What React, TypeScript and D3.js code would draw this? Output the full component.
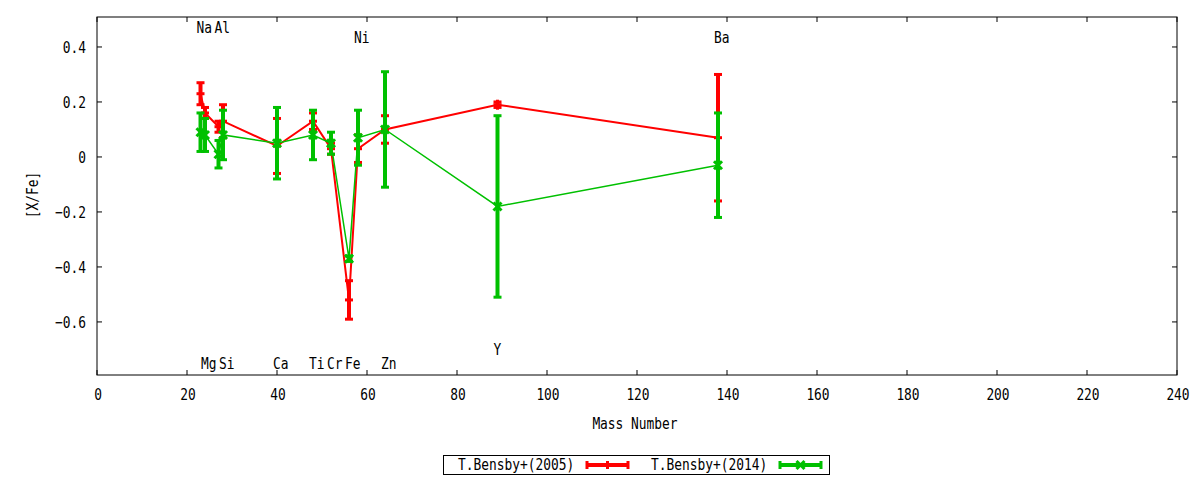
import * as d3 from "d3";

// element abundances vs mass number
const elements = ["Na", "Mg", "Al", "Si", "Ca", "Ti", "Cr", "Fe", "Ni", "Zn", "Y", "Ba"];
const massNumber = [23, 24, 27, 28, 40, 48, 52, 56, 58, 64, 89, 138];

const bensby2005 = [0.23, 0.16, 0.11, 0.13, 0.04, 0.13, 0.03, -0.52, 0.03, 0.1, 0.19, 0.07];
const bensby2005Err = [0.04, 0.02, 0.02, 0.06, 0.1, 0.03, 0.02, 0.07, 0.05, 0.05, 0.01, 0.23];

const bensby2014 = [0.09, 0.08, 0.01, 0.08, 0.05, 0.08, 0.05, -0.37, 0.07, 0.1, -0.18, -0.03];
const bensby2014Err = [0.07, 0.06, 0.05, 0.09, 0.13, 0.09, 0.04, 0.01, 0.1, 0.21, 0.33, 0.19];

const labelNames = ["Na", "Al", "Ni", "Ba", "Mg", "Si", "Ca", "Ti", "Cr", "Fe", "Zn", "Y"];
const labelMass = [23, 27, 58, 138, 24, 28, 40, 48, 52, 56, 64, 89];
const labelValue = [0.473, 0.473, 0.436, 0.436, -0.749, -0.749, -0.749, -0.749, -0.749, -0.749, -0.749, -0.698];

const xTicks = d3.range(0, 241, 20);
const yTicks = [-0.6, -0.4, -0.2, 0, 0.2, 0.4];

const FONT = "'DejaVu Sans Mono', monospace";
const RED = "#ff0000";
const GREEN = "#00c000";
const CHAR_W = 7.75;

// narrow monospace text, like gnuplot's png font
function T({ children, ...rest }: any) {
  const s = String(children);
  return (
    <text {...rest} textLength={s.length * CHAR_W} lengthAdjust="spacingAndGlyphs">
      {s}
    </text>
  );
}

function Series({ values, errs, color, marker, lineWidth, x, y }: any) {
  const pts = massNumber.map((m, i) => ({ m, v: values[i], e: errs[i] }));
  const line = d3
    .line<any>()
    .x((d) => x(d.m))
    .y((d) => y(d.v));
  return (
    <g>
      <path d={line(pts) || ""} fill="none" stroke={color} strokeWidth={lineWidth} />
      {pts.map((d, i) => {
        const cx = x(d.m);
        const cy = y(d.v);
        const top = y(d.v + d.e);
        const bot = y(d.v - d.e);
        return (
          <g key={i} stroke={color} fill="none">
            <line x1={cx} x2={cx} y1={top} y2={bot} strokeWidth={4} />
            <line x1={cx - 4} x2={cx + 4} y1={top} y2={top} strokeWidth={3} />
            <line x1={cx - 4} x2={cx + 4} y1={bot} y2={bot} strokeWidth={3} />
            {marker === "plus" ? (
              <>
                <line x1={cx - 4} x2={cx + 4} y1={cy} y2={cy} strokeWidth={3} />
                <line x1={cx} x2={cx} y1={cy - 5} y2={cy + 5} strokeWidth={3} />
              </>
            ) : (
              <>
                <line x1={cx - 4} x2={cx + 4} y1={cy - 4} y2={cy + 4} strokeWidth={3} />
                <line x1={cx - 4} x2={cx + 4} y1={cy + 4} y2={cy - 4} strokeWidth={3} />
              </>
            )}
          </g>
        );
      })}
    </g>
  );
}

function LegendSample({ x0, x1, yy, color, marker }: any) {
  const mid = (x0 + x1) / 2;
  return (
    <g stroke={color} fill="none">
      <line x1={x0} x2={x1} y1={yy} y2={yy} strokeWidth={4} />
      <line x1={x0} x2={x0} y1={yy - 4} y2={yy + 4} strokeWidth={3} />
      <line x1={x1} x2={x1} y1={yy - 4} y2={yy + 4} strokeWidth={3} />
      {marker === "plus" ? (
        <line x1={mid} x2={mid} y1={yy - 4} y2={yy + 4} strokeWidth={3} />
      ) : (
        <>
          <line x1={mid - 4} x2={mid + 4} y1={yy - 4} y2={yy + 4} strokeWidth={3} />
          <line x1={mid - 4} x2={mid + 4} y1={yy + 4} y2={yy - 4} strokeWidth={3} />
        </>
      )}
    </g>
  );
}

export default function App() {
  const left = 97,
    right = 1177,
    top = 17,
    bottom = 375;
  const x = d3.scaleLinear().domain([0, 240]).range([left, right]);
  const y = d3.scaleLinear().domain([-0.793, 0.509]).range([bottom, top]);
  const fmt = (v: number) => (v === 0 ? "0" : d3.format(".1f")(v));

  return (
    <svg
      width={1200}
      height={480}
      style={{ position: "absolute", left: 0, top: 0, background: "#fff" }}
      fontFamily={FONT}
      fontSize={16}
    >
      {/* ticks */}
      <g stroke="#000" strokeWidth={1}>
        {xTicks.map((t) => (
          <g key={"x" + t}>
            <line x1={x(t)} x2={x(t)} y1={bottom} y2={bottom - 5} />
            <line x1={x(t)} x2={x(t)} y1={top} y2={top + 5} />
          </g>
        ))}
        {yTicks.map((t) => (
          <g key={"y" + t}>
            <line x1={left} x2={left + 5} y1={y(t)} y2={y(t)} />
            <line x1={right} x2={right - 5} y1={y(t)} y2={y(t)} />
          </g>
        ))}
      </g>
      <g fill="#000">
        {xTicks.map((t) => (
          <T key={"xl" + t} x={x(t) - (String(t).length * CHAR_W) / 2 + 1} y={400}>
            {t}
          </T>
        ))}
        {yTicks.map((t) => (
          <T key={"yl" + t} x={86 - fmt(t).length * CHAR_W} y={y(t) + 6}>
            {fmt(t)}
          </T>
        ))}
        <T x={635 - (11 * CHAR_W) / 2} y={429}>
          Mass Number
        </T>
        <g transform="translate(38,195) rotate(-90)">
          <T x={-3 * CHAR_W} y={0}>
            [X/Fe]
          </T>
        </g>
      </g>

      <Series values={bensby2005} errs={bensby2005Err} color={RED} marker="plus" lineWidth={2} x={x} y={y} />
      <Series values={bensby2014} errs={bensby2014Err} color={GREEN} marker="cross" lineWidth={1.5} x={x} y={y} />

      {/* element labels */}
      <g fill="#000">
        {labelNames.map((n, i) => (
          <T key={n} x={x(labelMass[i]) - 4} y={y(labelValue[i]) + 6}>
            {n}
          </T>
        ))}
      </g>

      <rect x={left} y={top} width={right - left} height={bottom - top} fill="none" stroke="#000" strokeWidth={1} />

      {/* legend */}
      <rect x={443.5} y={455.5} width={386} height={19} fill="none" stroke="#000" strokeWidth={1} />
      <T x={458} y={470}>
        T.Bensby+(2005)
      </T>
      <LegendSample x0={587} x1={628} yy={465} color={RED} marker="plus" />
      <T x={651} y={470}>
        T.Bensby+(2014)
      </T>
      <LegendSample x0={780} x1={821} yy={465} color={GREEN} marker="cross" />
    </svg>
  );
}
